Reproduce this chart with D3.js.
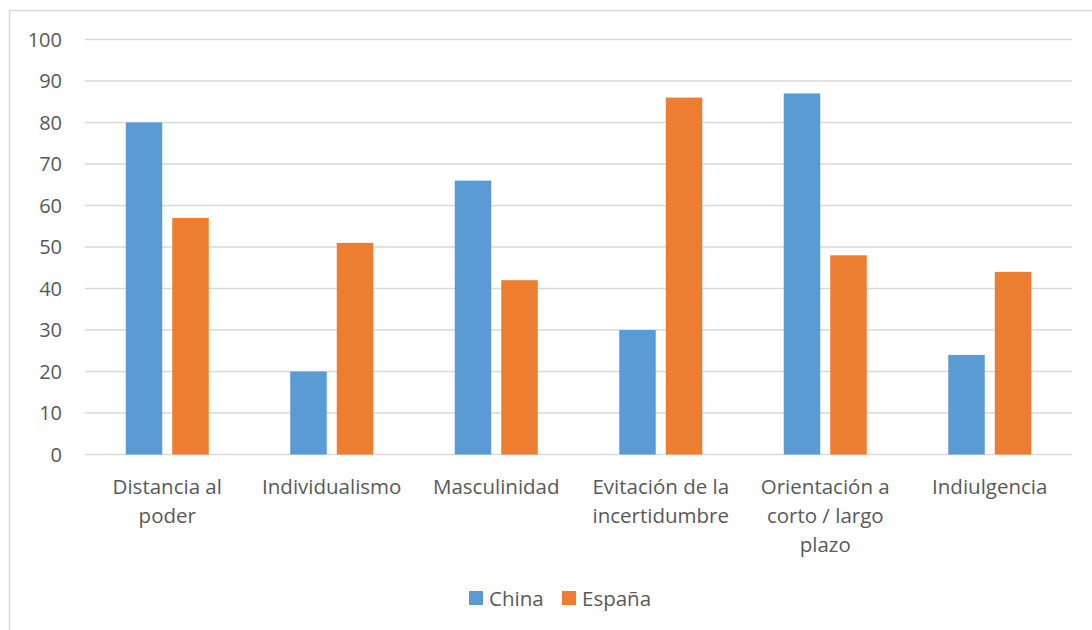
<!DOCTYPE html>
<html>
<head>
<meta charset="utf-8">
<script src="https://cdn.jsdelivr.net/npm/d3@7"></script>
<style>
  body { margin: 0; background: #fff; }
  text { font-family: "Open Sans", "Lato", sans-serif; fill: #595959; }
</style>
</head>
<body>
<svg id="chart" width="1092" height="630"></svg>
<script>
// data
let categories = ["Distancia al\npoder", "Individualismo", "Masculinidad",
    "Evitación de la\nincertidumbre", "Orientación a\ncorto / largo\nplazo", "Indiulgencia"];
let seriesNames = ["China", "España"];
let china = [80, 20, 66, 30, 87, 24];
let espana = [57, 51, 42, 86, 48, 44];
let yTicks = [0, 10, 20, 30, 40, 50, 60, 70, 80, 90, 100];
let colors = ["#5b9bd5", "#ed7d31"];

let svg = d3.select("#chart");

// light frame around the chart (only left and top show)
svg.append("rect")
    .attr("x", 9.5).attr("y", 10.5)
    .attr("width", 1200).attr("height", 700)
    .attr("fill", "none")
    .attr("stroke", "#d9d9d9")
    .attr("stroke-width", 1.5);

let plotLeft = 85, plotRight = 1072, plotTop = 39.5, plotBottom = 454.5;

let y = d3.scaleLinear().domain([0, 100]).range([plotBottom, plotTop]);
let x0 = d3.scaleBand().domain(categories).range([plotLeft, plotRight]).padding(0);
let bw = x0.bandwidth();
let x1 = d3.scaleBand().domain(seriesNames)
    .range([bw / 2 - 41.5, bw / 2 + 41.5])
    .paddingInner(10 / 46.5).paddingOuter(0);

// gridlines
svg.append("g").selectAll("line")
    .data(yTicks)
    .enter().append("line")
    .attr("x1", plotLeft).attr("x2", plotRight)
    .attr("y1", d => y(d)).attr("y2", d => y(d))
    .attr("stroke", "#d9d9d9")
    .attr("stroke-width", 1.5);

// y labels
svg.append("g").selectAll("text")
    .data(yTicks)
    .enter().append("text")
    .attr("x", 62)
    .attr("y", d => y(d))
    .attr("dy", "0.35em")
    .attr("text-anchor", "end")
    .style("font-size", "20px")
    .text(d => d);

// bars
let rows = categories.map((c, i) => ({ cat: c, vals: [china[i], espana[i]] }));
let groups = svg.append("g").selectAll("g")
    .data(rows)
    .enter().append("g")
    .attr("transform", d => "translate(" + x0(d.cat) + ",0)");

groups.selectAll("rect")
    .data(d => d.vals.map((v, j) => ({ name: seriesNames[j], v: v, j: j })))
    .enter().append("rect")
    .attr("x", d => x1(d.name))
    .attr("width", x1.bandwidth())
    .attr("y", d => y(d.v))
    .attr("height", d => y(0) - y(d.v))
    .attr("fill", d => colors[d.j]);

// category labels
let catLabels = svg.append("g").selectAll("text")
    .data(categories)
    .enter().append("text")
    .attr("text-anchor", "middle")
    .style("font-size", "20.5px")
    .attr("transform", d => "translate(" + (x0(d) + bw / 2) + ",494)");

catLabels.each(function (d) {
    let lines = d.split("\n");
    d3.select(this).selectAll("tspan")
        .data(lines)
        .enter().append("tspan")
        .attr("x", 0)
        .attr("y", (l, i) => i * 29)
        .text(l => l);
});

// legend
let legendX = [469, 562];
let legend = svg.append("g").selectAll("g")
    .data(seriesNames)
    .enter().append("g")
    .attr("transform", (d, i) => "translate(" + legendX[i] + ",591)");

legend.append("rect")
    .attr("width", 14).attr("height", 14)
    .attr("fill", (d, i) => colors[i]);

legend.append("text")
    .attr("x", 20).attr("y", 14.5)
    .style("font-size", "20.5px")
    .text(d => d);
</script>
</body>
</html>
